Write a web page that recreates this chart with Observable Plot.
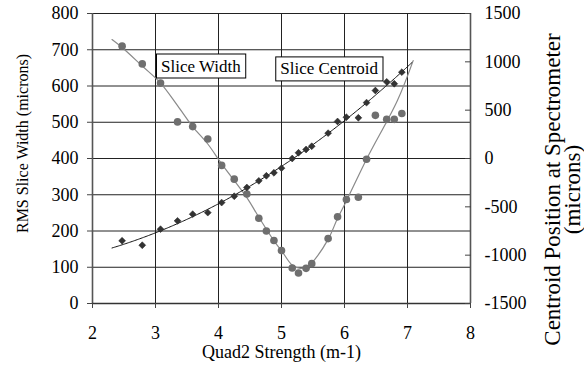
<!DOCTYPE html>
<html>
<head>
<meta charset="utf-8">
<script src="https://cdn.jsdelivr.net/npm/d3@7"></script>
<script src="https://cdn.jsdelivr.net/npm/@observablehq/plot@0.6"></script>
<style>
  html, body { margin: 0; padding: 0; background: #fff; }
  #chart svg { display: block; font-family: "Liberation Serif", "Times New Roman", serif !important; background: #fff; }
  #chart svg text { font-family: "Liberation Serif", "Times New Roman", serif !important; }
</style>
</head>
<body>
<div id="chart"></div>
<script>
// Quadrupole scan: slice width and slice centroid versus Quad2 strength
const quadStrength = [2.47, 2.79, 3.08, 3.35, 3.59, 3.83, 4.05, 4.25, 4.45, 4.64, 4.76, 4.88, 5.00,
                      5.17, 5.27, 5.39, 5.48, 5.74, 5.89, 6.03, 6.22, 6.35, 6.49, 6.67, 6.79, 6.91];
const sliceWidth = [710, 661, 608, 501, 488, 454, 381, 343, 302, 235, 200, 174, 146,
                    98, 84, 97, 110, 179, 239, 287, 293, 398, 519, 508, 508, 524];
const sliceCentroid = [-851, -897, -731, -645, -576, -560, -456, -390, -300, -231, -179, -148, -100,
                       0, 59, 93, 127, 262, 383, 427, 421, 578, 703, 793, 773, 893];

// Slice-width trend curve
const widthTrendQ = [2.31, 2.47, 2.79, 3.08, 3.35, 3.59, 3.83, 4.05, 4.45, 4.64, 4.88, 5.00,
                     5.17, 5.30, 5.39, 5.48, 5.74, 5.89, 6.03, 6.35, 6.84, 7.09];
const widthTrendW = [728, 706, 655, 608, 546, 488, 440, 385, 292, 238, 173, 146,
                     106, 97, 100, 112, 177, 235, 283, 398, 560, 670];

const widthTicks = [0, 100, 200, 300, 400, 500, 600, 700, 800];
const centroidTicks = [-1500, -1000, -500, 0, 500, 1000, 1500];
const strengthTicks = [2, 3, 4, 5, 6, 7, 8];

const annotations = [
  {label: "Slice Width", q: 3.72, w: 655},
  {label: "Slice Centroid", q: 5.756, w: 647}
];

// Secondary (right) axis: centroid microns expressed in slice-width units
const toWidthUnits = d3.scaleLinear([-1500, 1500], [0, 800]);

// Least-squares polynomial trendline
function polyFit(xs, ys, degree) {
  const n = degree + 1;
  const x0 = d3.mean(xs);
  const A = Array.from({length: n}, () => new Array(n + 1).fill(0));
  xs.forEach((x, k) => {
    const p = d3.range(n).map(i => (x - x0) ** i);
    for (let i = 0; i < n; i++) {
      for (let j = 0; j < n; j++) A[i][j] += p[i] * p[j];
      A[i][n] += p[i] * ys[k];
    }
  });
  for (let c = 0; c < n; c++) {
    let piv = c;
    for (let r = c + 1; r < n; r++) if (Math.abs(A[r][c]) > Math.abs(A[piv][c])) piv = r;
    [A[c], A[piv]] = [A[piv], A[c]];
    for (let r = 0; r < n; r++) {
      if (r === c) continue;
      const f = A[r][c] / A[c][c];
      for (let k = c; k <= n; k++) A[r][k] -= f * A[c][k];
    }
  }
  const coef = A.map((row, i) => row[n] / row[i]);
  return x => coef.reduce((s, c, i) => s + c * (x - x0) ** i, 0);
}

const rows = quadStrength.map((q, i) => ({q, w: sliceWidth[i], c: toWidthUnits(sliceCentroid[i])}));
const widthTrend = widthTrendQ.map((q, i) => ({q, w: widthTrendW[i]}));

// quadratic trend through the centroid measurements
const centroidFit = polyFit(quadStrength, sliceCentroid, 2);
const span = d3.range(d3.min(quadStrength) - 0.16, d3.max(quadStrength) + 0.18, 0.02);
const centroidTrend = span.map(q => ({q, c: toWidthUnits(centroidFit(q))}));

const chart = Plot.plot({
  width: 584,
  height: 377,
  marginTop: 13,
  marginBottom: 74,
  marginLeft: 92,
  marginRight: 114,
  x: {domain: [2, 8]},
  y: {domain: [0, 800]},
  marks: [
    Plot.gridY(widthTicks, {stroke: "#222", strokeOpacity: 1}),
    Plot.gridX(strengthTicks.slice(1, -1), {stroke: "#222", strokeOpacity: 1}),
    Plot.ruleX([2, 8], {stroke: "#555", strokeWidth: 1.6}),
    Plot.ruleY([0], {stroke: "#333", strokeWidth: 1.4}),
    Plot.axisY(widthTicks, {anchor: "left", tickSize: 5, tickPadding: 9, label: null, stroke: "#444", fontSize: 18}),
    Plot.axisY(centroidTicks.map(toWidthUnits), {
      anchor: "right", tickSize: -6, tickPadding: 20, label: null, stroke: "#444", fontSize: 18,
      tickFormat: d => String(Math.round(toWidthUnits.invert(d)))
    }),
    Plot.axisX(strengthTicks, {anchor: "bottom", tickSize: 5, tickPadding: 18, label: null, stroke: "#444", fontSize: 18}),
    Plot.line(widthTrend, {x: "q", y: "w", curve: "catmull-rom", stroke: "#8a8a8a", strokeWidth: 1.2}),
    Plot.line(centroidTrend, {x: "q", y: "c", stroke: "#111", strokeWidth: 1}),
    Plot.dot(rows, {x: "q", y: "w", r: 3.8, fill: "#6f6f6f"}),
    Plot.dot(rows, {x: "q", y: "c", r: 3.1, symbol: "diamond2", fill: "#333", stroke: "#222", strokeWidth: 0.5}),
    Plot.text(annotations, {x: "q", y: "w", text: "label", fontSize: 17, fill: "#000", className: "annot"}),
    Plot.text(["Quad2 Strength (m-1)"], {frameAnchor: "bottom", textAnchor: "middle", dy: 54, fontSize: 18}),
    Plot.text(["RMS Slice Width (microns)"], {frameAnchor: "left", textAnchor: "middle", dx: -70, dy: -15, rotate: -90, fontSize: 16}),
    Plot.text(["Centroid Position at Spectrometer"], {frameAnchor: "right", textAnchor: "middle", dx: 82, dy: 31, rotate: -90, fontSize: 23}),
    Plot.text(["(microns)"], {frameAnchor: "right", textAnchor: "middle", dx: 102, dy: 31, rotate: -90, fontSize: 23})
  ]
});

document.getElementById("chart").append(chart);

// White boxes behind the series annotations
d3.select(chart).selectAll("g.annot text").each(function() {
  const b = this.getBBox();
  d3.select(this.parentNode)
    .insert("rect", () => this)
    .attr("x", b.x - 4.5)
    .attr("y", b.y - 2.5)
    .attr("width", b.width + 9)
    .attr("height", b.height + 5)
    .attr("transform", this.getAttribute("transform"))
    .attr("fill", "#fff")
    .attr("stroke", "#000")
    .attr("stroke-width", 1);
});
</script>
</body>
</html>
